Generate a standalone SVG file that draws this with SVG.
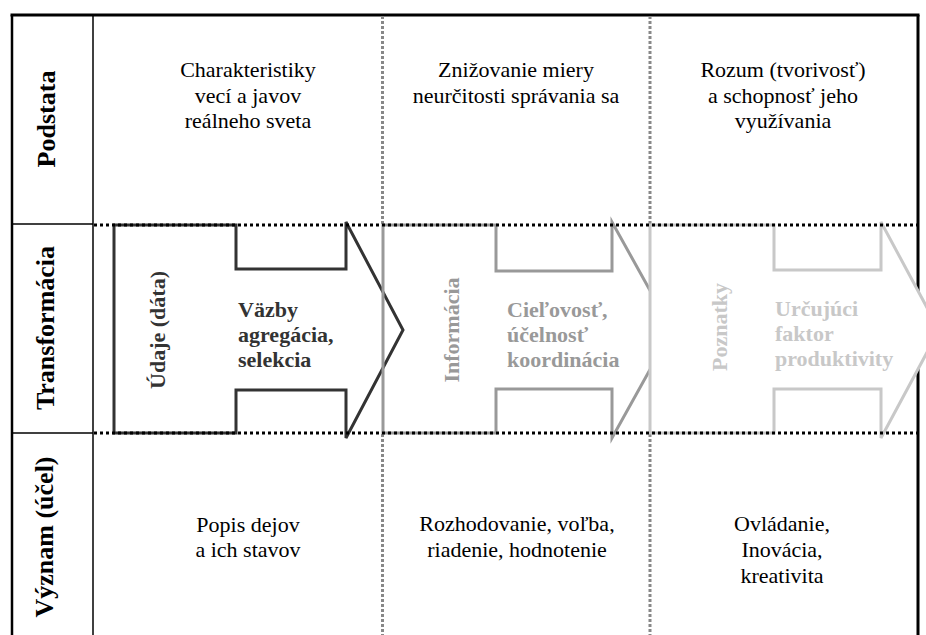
<svg xmlns="http://www.w3.org/2000/svg" width="926" height="635" viewBox="0 0 926 635">
<style>
.frame{stroke:#000;fill:none}
.thin{stroke:#000;stroke-width:1.5;fill:none}
.hdot{stroke:#000;stroke-width:3;stroke-dasharray:3 3;fill:none}
.vdot{stroke:#888;stroke-width:3;stroke-dasharray:3 2;fill:none}
.row{font-family:"Liberation Serif","Times New Roman",Times,serif;font-weight:bold;font-size:26px;fill:#000;text-anchor:middle}
.cell{font-family:"Liberation Serif","Times New Roman",Times,serif;font-weight:normal;font-size:22px;fill:#000;text-anchor:middle}
.lab{font-family:"Liberation Serif","Times New Roman",Times,serif;font-weight:bold;font-size:22px}
.a1{stroke:#333;stroke-width:3;fill:none}
.a2{stroke:#999;stroke-width:3;fill:none}
.a3{stroke:#c8c8c8;stroke-width:3;fill:#fff}
</style>
<rect width="926" height="635" fill="#fff"/>
<g id="frame">
<line class="frame" x1="10.5" y1="15" x2="919.5" y2="15" stroke-width="3"/>
<line class="frame" x1="12" y1="15" x2="12" y2="635" stroke-width="2.5"/>
<line class="frame" x1="918" y1="15" x2="918" y2="635" stroke-width="3"/>
<line class="thin" x1="93" y1="15" x2="93" y2="635"/>
<line class="thin" x1="12" y1="224" x2="93" y2="224"/>
<line class="thin" x1="12" y1="433" x2="93" y2="433"/>
<line class="vdot" x1="382.5" y1="16" x2="382.5" y2="224"/>
<line class="vdot" x1="382.5" y1="434" x2="382.5" y2="635"/>
<line class="vdot" x1="650" y1="16" x2="650" y2="224"/>
<line class="vdot" x1="650" y1="434" x2="650" y2="635"/>
</g>
<g id="row-labels">
<text class="row" transform="translate(55,119) rotate(-90)">Podstata</text>
<text class="row" transform="translate(54,328) rotate(-90)">Transformácia</text>
<text class="row" transform="translate(53,537) rotate(-90)">Význam (účel)</text>
</g>
<g id="podstata">
<text class="cell" x="248" y="77">Charakteristiky</text>
<text class="cell" x="248" y="102.5">vecí a javov</text>
<text class="cell" x="248" y="128">reálneho sveta</text>
<text class="cell" x="516" y="77">Znižovanie miery</text>
<text class="cell" x="516" y="102.5">neurčitosti správania sa</text>
<text class="cell" x="783" y="77">Rozum (tvorivosť)</text>
<text class="cell" x="783" y="102.5">a schopnosť jeho</text>
<text class="cell" x="783" y="128">využívania</text>
</g>
<g id="arrow-udaje">
<path class="a1" d="M114,225 H236 V269 H346 V222 L403,330 L346,438 V390 H236 V433 H114 Z"/>
<text class="lab" fill="#333" text-anchor="middle" transform="translate(165,330) rotate(-90)">Údaje (dáta)</text>
<text class="lab" fill="#333" x="238" y="317">Väzby</text>
<text class="lab" fill="#333" x="238" y="342">agregácia,</text>
<text class="lab" fill="#333" x="238" y="367">selekcia</text>
</g>
<g id="arrow-informacia">
<path class="a2" d="M383,225 H496 V271 H612 V222 L672,330 L612,438 V389 H496 V433 H383 Z"/>
<text class="lab" fill="#999" text-anchor="middle" transform="translate(459,330) rotate(-90)">Informácia</text>
<text class="lab" fill="#999" x="507" y="317">Cieľovosť,</text>
<text class="lab" fill="#999" x="507" y="342">účelnosť</text>
<text class="lab" fill="#999" x="507" y="367">koordinácia</text>
</g>
<g id="arrow-poznatky">
<path class="a3" d="M650,225 H774 V270 H881 V222 L939,330 L881,438 V389 H774 V433 H650 Z"/>
<text class="lab" fill="#c8c8c8" text-anchor="middle" transform="translate(727,327) rotate(-90)">Poznatky</text>
<text class="lab" fill="#c8c8c8" x="775" y="316">Určujúci</text>
<text class="lab" fill="#c8c8c8" x="775" y="341">faktor</text>
<text class="lab" fill="#c8c8c8" x="775" y="366">produktivity</text>
</g>
<g id="connectors">
<line class="hdot" x1="94" y1="225" x2="918" y2="225"/>
<line class="hdot" x1="94" y1="433" x2="918" y2="433"/>
</g>
<g id="vyznam">
<text class="cell" x="248" y="532">Popis dejov</text>
<text class="cell" x="248" y="557">a ich stavov</text>
<text class="cell" x="517" y="531">Rozhodovanie, voľba,</text>
<text class="cell" x="517" y="557">riadenie, hodnotenie</text>
<text class="cell" x="782" y="531">Ovládanie,</text>
<text class="cell" x="782" y="557">Inovácia,</text>
<text class="cell" x="782" y="583">kreativita</text>
</g>
</svg>
